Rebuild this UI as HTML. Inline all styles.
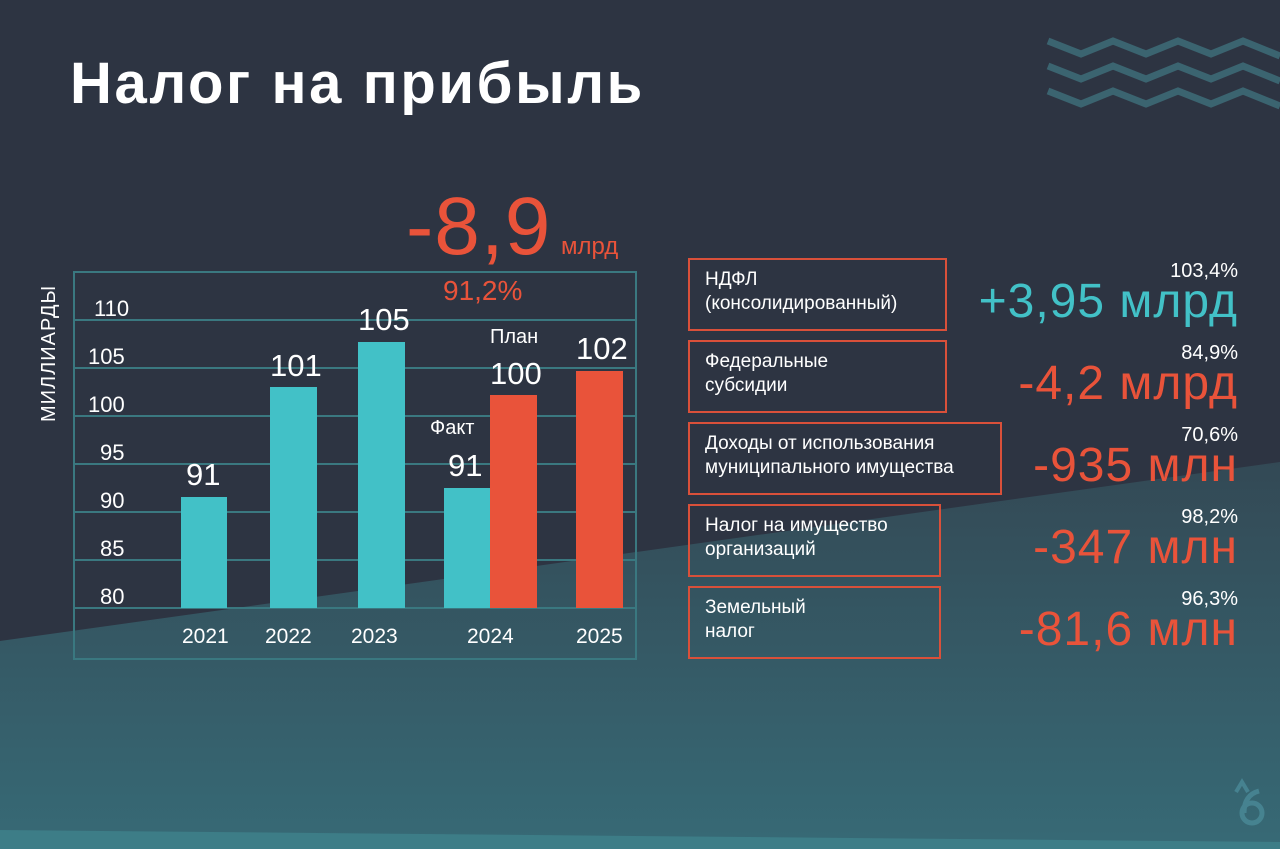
<!DOCTYPE html>
<html><head><meta charset="utf-8"><style>
body{margin:0;width:1280px;height:849px;overflow:hidden;font-family:"Liberation Sans","DejaVu Sans",sans-serif;}
#c{position:relative;width:1280px;height:849px;background:#2d3442;overflow:hidden}
.t{position:absolute;white-space:nowrap;color:#fff}
.box{position:absolute;border:2px solid #d9503a;box-sizing:border-box;color:#fff;font-size:19px;line-height:24px;padding:8px 0 0 15px}
.pct{position:absolute;color:#fff;font-size:20px;text-align:right;right:42px}
.big{position:absolute;font-size:48px;right:42px;text-align:right;color:#e9533a;letter-spacing:1px}
</style></head><body><div id="c">
<svg width="1280" height="849" style="position:absolute;left:0;top:0">
<defs><linearGradient id="g" x1="0" y1="0" x2="0" y2="1"><stop offset="0" stop-color="#334955"/><stop offset="1" stop-color="#376a76"/></linearGradient></defs>
<polygon points="0,641 1280,462 1280,849 0,849" fill="url(#g)"/>
<polygon points="0,830 1280,842 1280,849 0,849" fill="#3d7d87"/>
<g stroke="#3b6470" stroke-width="7" fill="none">
<polyline points="1048,41 1081,54 1113,41 1146,54 1178,41 1211,54 1243,41 1280,56"/>
<polyline points="1048,66 1081,79 1113,66 1146,79 1178,66 1211,79 1243,66 1280,81"/>
<polyline points="1048,91 1081,104 1113,91 1146,104 1178,91 1211,104 1243,91 1280,106"/>
</g>
<rect x="74" y="272" width="562" height="387" fill="none" stroke="#3a7880" stroke-width="2"/>
<g stroke="#3a7880" stroke-width="2">
<line x1="74" y1="320" x2="636" y2="320"/><line x1="74" y1="368" x2="636" y2="368"/><line x1="74" y1="416" x2="636" y2="416"/><line x1="74" y1="464" x2="636" y2="464"/><line x1="74" y1="512" x2="636" y2="512"/><line x1="74" y1="560" x2="636" y2="560"/><line x1="74" y1="608" x2="636" y2="608"/>
</g>
<g fill="#42c1c7">
<rect x="181" y="497" width="46" height="111"/><rect x="270" y="387" width="47" height="221"/><rect x="358" y="342" width="47" height="266"/><rect x="444" y="488" width="46" height="120"/>
</g>
<g fill="#e9533a"><rect x="490" y="395" width="47" height="213"/><rect x="576" y="371" width="47" height="237"/></g>
<g fill="#3f7f8e" opacity="0.8"><path d="M1236 792 l6 -10 l6 10" stroke="#4a8a98" stroke-width="4" fill="none"/><circle cx="1252" cy="813" r="10" fill="none" stroke="#4a8a98" stroke-width="5"/><path d="M1244 813 q0 -18 15 -22" stroke="#4a8a98" stroke-width="5" fill="none"/></g>
</svg>
<div class="t" style="left:70px;top:50px;font-size:58px;font-weight:bold;letter-spacing:2.6px">Налог на прибыль</div>
<div class="t" style="left:38px;top:270px;font-size:20px;transform-origin:0 0;transform:rotate(-90deg) translate(-152px,0);letter-spacing:1px">МИЛЛИАРДЫ</div>
<div class="t" style="left:94px;top:296px;font-size:22px">110</div>
<div class="t" style="left:88px;top:344px;font-size:22px">105</div>
<div class="t" style="left:88px;top:392px;font-size:22px">100</div>
<div class="t" style="left:100px;top:440px;font-size:22px">95</div>
<div class="t" style="left:100px;top:488px;font-size:22px">90</div>
<div class="t" style="left:100px;top:536px;font-size:22px">85</div>
<div class="t" style="left:100px;top:584px;font-size:22px">80</div>
<div class="t" style="left:182px;top:625px;font-size:21px">2021</div>
<div class="t" style="left:265px;top:625px;font-size:21px">2022</div>
<div class="t" style="left:351px;top:625px;font-size:21px">2023</div>
<div class="t" style="left:467px;top:625px;font-size:21px">2024</div>
<div class="t" style="left:576px;top:625px;font-size:21px">2025</div>
<div class="t" style="left:186px;top:457px;font-size:31px">91</div>
<div class="t" style="left:270px;top:348px;font-size:31px">101</div>
<div class="t" style="left:358px;top:302px;font-size:31px">105</div>
<div class="t" style="left:448px;top:448px;font-size:31px">91</div>
<div class="t" style="left:490px;top:356px;font-size:31px">100</div>
<div class="t" style="left:576px;top:331px;font-size:31px">102</div>
<div class="t" style="left:430px;top:417px;font-size:20px">Факт</div>
<div class="t" style="left:490px;top:326px;font-size:20px">План</div>
<div class="t" style="left:406px;top:180px;font-size:82px;color:#e9533a;letter-spacing:1px">-8,9</div>
<div class="t" style="left:561px;top:233px;font-size:24px;color:#e9533a">млрд</div>
<div class="t" style="left:443px;top:275px;font-size:28px;color:#e9533a">91,2%</div>
<div class="box" style="left:688px;top:258px;width:259px;height:73px">НДФЛ<br>(консолидированный)</div>
<div class="box" style="left:688px;top:340px;width:259px;height:73px">Федеральные<br>субсидии</div>
<div class="box" style="left:688px;top:422px;width:314px;height:73px">Доходы от использования<br>муниципального имущества</div>
<div class="box" style="left:688px;top:504px;width:253px;height:73px">Налог на имущество<br>организаций</div>
<div class="box" style="left:688px;top:586px;width:253px;height:73px">Земельный<br>налог</div>
<div class="pct" style="top:260px">103,4%</div>
<div class="big" style="top:274px;color:#42c1c7">+3,95 млрд</div>
<div class="pct" style="top:342px">84,9%</div>
<div class="big" style="top:356px">-4,2 млрд</div>
<div class="pct" style="top:424px">70,6%</div>
<div class="big" style="top:438px">-935 млн</div>
<div class="pct" style="top:506px">98,2%</div>
<div class="big" style="top:520px">-347 млн</div>
<div class="pct" style="top:588px">96,3%</div>
<div class="big" style="top:602px">-81,6 млн</div>
</div></body></html>
